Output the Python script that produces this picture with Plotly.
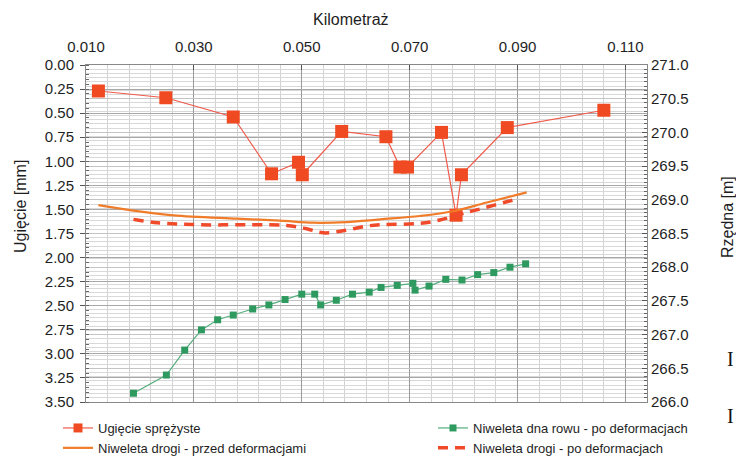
import plotly.graph_objects as go

# ---- data ----
ugiecie_km = [0.0123, 0.0248, 0.0373, 0.0444, 0.0494, 0.0501, 0.0574, 0.0656,
              0.0682, 0.0696, 0.0759, 0.0786, 0.0796, 0.0881, 0.1060]
ugiecie_mm = [0.27, 0.34, 0.54, 1.13, 1.01, 1.14, 0.69, 0.745,
              1.06, 1.06, 0.70, 1.56, 1.14, 0.65, 0.47]

rowu_km = [0.0188, 0.0249, 0.0283, 0.0314, 0.0344, 0.0373, 0.0409, 0.0439,
           0.0469, 0.0500, 0.0524, 0.0535, 0.0564, 0.0594, 0.0625, 0.0647,
           0.0677, 0.0706, 0.0710, 0.0736, 0.0767, 0.0797, 0.0826, 0.0856,
           0.0886, 0.0915]
rowu_m = [266.13, 266.40, 266.77, 267.07, 267.22, 267.29, 267.38, 267.44,
          267.52, 267.60, 267.60, 267.44, 267.51, 267.60, 267.63, 267.70,
          267.73, 267.76, 267.66, 267.72, 267.82, 267.81, 267.89, 267.92,
          268.00, 268.05]

przed_km = [0.0123, 0.0188, 0.0262, 0.0380, 0.0460, 0.0522, 0.0583, 0.0645,
            0.0719, 0.0781, 0.0843, 0.0917]
przed_m = [268.92, 268.84, 268.77, 268.72, 268.69, 268.66, 268.67, 268.71,
           268.76, 268.83, 268.96, 269.11]

po_km = [0.0188, 0.0232, 0.0312, 0.0409, 0.0472, 0.0509, 0.0540, 0.0583,
         0.0620, 0.0645, 0.0719, 0.0756, 0.0787, 0.0824, 0.0903]
po_m = [268.71, 268.66, 268.63, 268.63, 268.62, 268.57, 268.51, 268.55,
        268.61, 268.63, 268.65, 268.70, 268.77, 268.85, 269.02]

x_ticks = [0.010, 0.030, 0.050, 0.070, 0.090, 0.110]

FONT = "Liberation Sans, Arial, sans-serif"
TXT = "#1e1e1e"
RED = "#F04A22"
RED_LINE = "#F05A4A"

fig = go.Figure()

fig.add_trace(go.Scatter(
    x=przed_km, y=przed_m, yaxis="y2", mode="lines", line_shape="spline",
    name="Niweleta drogi - przed deformacjami",
    line=dict(color="#F07C2A", width=2.2), legend="legend", legendrank=2))
fig.add_trace(go.Scatter(
    x=po_km, y=po_m, yaxis="y2", mode="lines", line_shape="spline",
    name="Niweleta drogi - po deformacjach",
    line=dict(color="#F04A2A", width=3.5, dash="10px,7px"), legend="legend2", legendrank=2))
fig.add_trace(go.Scatter(
    x=rowu_km, y=rowu_m, yaxis="y2", mode="lines+markers",
    name="Niweleta dna rowu - po deformacjach",
    line=dict(color="#55AD7D", width=1.2),
    marker=dict(symbol="square", size=7, color="#2E9A5F"), legend="legend2", legendrank=1))
fig.add_trace(go.Scatter(
    x=ugiecie_km, y=ugiecie_mm, yaxis="y", mode="lines+markers",
    name="Ugięcie sprężyste", showlegend=False,
    line=dict(color=RED_LINE, width=1.2),
    marker=dict(symbol="square", size=13, color=RED)))
# legend entry for the deflection series (smaller symbol, as in the reference legend)
fig.add_trace(go.Scatter(
    x=[None], y=[None], yaxis="y", mode="lines+markers",
    name="Ugięcie sprężyste",
    line=dict(color=RED_LINE, width=1.2),
    marker=dict(symbol="square", size=9, color=RED), legend="legend", legendrank=1))

fig.update_layout(
    width=736, height=456,
    margin=dict(l=86, r=89, t=65, b=54, autoexpand=False),
    paper_bgcolor="white", plot_bgcolor="white",
    font=dict(family=FONT, size=15, color=TXT),
    xaxis=dict(
        side="top", range=[0.010, 0.114], tickvals=x_ticks, tickformat=".3f",
        ticks="inside", ticklen=5, tickcolor="#555", ticklabelstandoff=6,
        showline=True, linecolor="#888", linewidth=1, mirror=True,
        showgrid=True, gridcolor="#9a9a9a", gridwidth=1, zeroline=False,
        minor=dict(tick0=0.010, dtick=0.004, showgrid=True, gridcolor="#d2d2d2", gridwidth=1, ticks=""),
        tickfont=dict(size=15, color=TXT)),
    yaxis=dict(
        range=[3.5, 0.0], dtick=0.25, tick0=0, tickformat=".2f",
        ticks="outside", ticklen=5, tickcolor="#555", ticklabelstandoff=3,
        showline=True, linecolor="#888", linewidth=1,
        showgrid=True, gridcolor="#a8a8a8", gridwidth=1, zeroline=False,
        minor=dict(dtick=0.05, ticks="inside", ticklen=3, tickcolor="#666", showgrid=False),
        tickfont=dict(size=15, color=TXT)),
    yaxis2=dict(
        overlaying="y", side="right", anchor="x", range=[266.0, 271.0],
        dtick=0.5, tick0=266, tickformat=".1f",
        ticks="inside", ticklen=5, tickcolor="#555",
        showline=True, linecolor="#888", linewidth=1,
        showgrid=True, gridcolor="#c4c4c4", gridwidth=1, zeroline=False,
        minor=dict(dtick=0.0625, ticks="inside", ticklen=3, tickcolor="#666",
                   showgrid=True, gridcolor="#d8d8d8", gridwidth=1),
        tickfont=dict(size=15, color=TXT)),
    legend=dict(
        xref="container", yref="container", x=58/736, y=1 - 413/456,
        xanchor="left", yanchor="top", orientation="v",
        font=dict(family=FONT, size=13, color=TXT), bgcolor="rgba(0,0,0,0)",
        tracegroupgap=0, itemwidth=30),
    legend2=dict(
        xref="container", yref="container", x=433/736, y=1 - 413/456,
        xanchor="left", yanchor="top", orientation="v",
        font=dict(family=FONT, size=13, color=TXT), bgcolor="rgba(0,0,0,0)",
        tracegroupgap=0, itemwidth=30),
    showlegend=True,
)

annos = [
    dict(text="Kilometraż", x=351, y=20, font=dict(size=16)),
    dict(text="Ugięcie [mm]", x=20, y=207, textangle=-90, font=dict(size=16)),
    dict(text="Rzędna [m]", x=727, y=217, textangle=-90, font=dict(size=16)),
    dict(text="I", x=730, y=359, font=dict(family="Liberation Serif", size=20, color="#111")),
    dict(text="I", x=730, y=416, font=dict(family="Liberation Serif", size=20, color="#111")),
]
for a in annos:
    fig.add_annotation(
        text=a["text"], xref="paper", yref="paper",
        x=(a["x"] - 86) / (736 - 86 - 89), y=1 - (a["y"] - 65) / (456 - 65 - 54),
        xanchor="center", yanchor="middle", showarrow=False,
        textangle=a.get("textangle", 0),
        font=dict(family=a["font"].get("family", FONT), size=a["font"]["size"],
                  color=a["font"].get("color", TXT)))

fig.write_html("out.html")
